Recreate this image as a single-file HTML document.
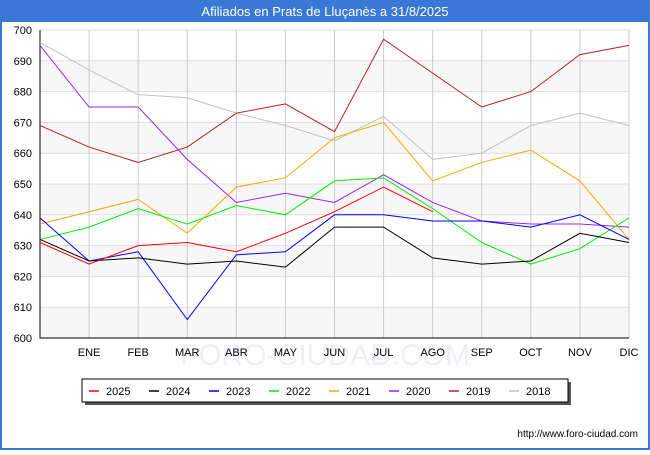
<!DOCTYPE html>
<html><head><meta charset="utf-8"><style>
body{margin:0;width:650px;height:450px;overflow:hidden;font-family:"Liberation Sans",sans-serif;background:#fff}
</style></head><body>
<svg width="650" height="450" xmlns="http://www.w3.org/2000/svg">
<rect x="0" y="0" width="650" height="450" fill="#3a78d8"/>
<rect x="2" y="22" width="646" height="426" fill="#fff"/>
<text x="325" y="16" text-anchor="middle" font-size="13" fill="#fff">Afiliados en Prats de Lluçanès a 31/8/2025</text>
<text x="325" y="365" text-anchor="middle" font-size="30" fill="#eef0f5">FORO-CIUDAD.COM</text>
<g id="plot"></g>
<g id="legend"></g>
<text x="638" y="437" text-anchor="end" font-size="10" fill="#000">http://www.foro-ciudad.com</text>
</svg>
<script>
const months=["","ENE","FEB","MAR","ABR","MAY","JUN","JUL","AGO","SEP","OCT","NOV","DIC"];
const yTicks=[600,610,620,630,640,650,660,670,680,690,700];
const seriesNames=["2025","2024","2023","2022","2021","2020","2019","2018"];
const seriesColors=["#ff0000","#000000","#0000ff","#00ee00","#ffa500","#a020f0","#b22222","#c0c0c0"];
const s2025=[631,624,630,631,628,634,641,649,641];
const s2024=[632,625,626,624,625,623,636,636,626,624,625,634,631];
const s2023=[639,625,628,606,627,628,640,640,638,638,636,640,632];
const s2022=[632,636,642,637,643,640,651,652,642,631,624,629,639];
const s2021=[637,641,645,634,649,652,665,670,651,657,661,651,632];
const s2020=[695,675,675,658,644,647,644,653,644,638,637,637,636];
const s2019=[669,662,657,662,673,676,667,697,686,675,680,692,695];
const s2018=[696,687,679,678,673,669,664,672,658,660,669,673,669];
const allSeries=[s2025,s2024,s2023,s2022,s2021,s2020,s2019,s2018];
const NS="http://www.w3.org/2000/svg";
const L=40,R=629,T=30,B=338;
const x=i=>L+(R-L)*i/12;
const y=v=>B-(v-600)/100*(B-T);
const plot=document.getElementById('plot');
function mk(tag,attrs,parent){const e=document.createElementNS(NS,tag);for(const k in attrs)e.setAttribute(k,attrs[k]);(parent||plot).appendChild(e);return e;}
for(let i=0;i<yTicks.length-1;i+=2){
 const r=mk('rect',{x:L,y:y(yTicks[i]+10),width:R-L,height:y(yTicks[i])-y(yTicks[i]+10),fill:'#f7f7f7'});
 
 
}
yTicks.forEach(v=>{
 const g=mk('line',{x1:L,x2:R,y1:y(v),y2:y(v),stroke:'#ddd','stroke-width':1});
 
 
 const t=mk('text',{x:L-8,y:y(v)+4,'text-anchor':'end','font-size':11,fill:'#000'});
 t.textContent=v;
 
 
});
months.forEach((m,i)=>{
 if(i>0){
 const g=mk('line',{x1:x(i),x2:x(i),y1:T,y2:B,stroke:'#ccc','stroke-width':1});
 
 
 }
 const t=mk('text',{x:x(i),y:B+18,'text-anchor':'middle','font-size':11,fill:'#000'});
 t.textContent=m;
 
 
});
const ax=mk('path',{d:`M${L},${T}V${B}H${R}`,fill:'none',stroke:'#000','stroke-width':1});


for(let s=allSeries.length-1;s>=0;s--){
 const d=allSeries[s].map((v,i)=>(i?'L':'M')+x(i)+','+y(v)).join('');
 const p=mk('path',{d:d,fill:'none',stroke:seriesColors[s],'stroke-width':1});
 
 
}
const lg=document.getElementById('legend');
const sh=mk('rect',{x:85,y:382,width:486,height:23,fill:'#555'},lg);


const box=mk('rect',{x:82,y:379,width:486,height:23,fill:'#fff',stroke:'#000','stroke-width':1},lg);


seriesNames.forEach((n,i)=>{
 const lx=89+i*60;
 const l=mk('line',{x1:lx,x2:lx+10,y1:391,y2:391,stroke:seriesColors[i],'stroke-width':1.5},lg);
 
 
 const t=mk('text',{x:lx+17,y:395,'font-size':11,fill:'#000'},lg);
 t.textContent=n;
 
 
});
</script>
</body></html>
